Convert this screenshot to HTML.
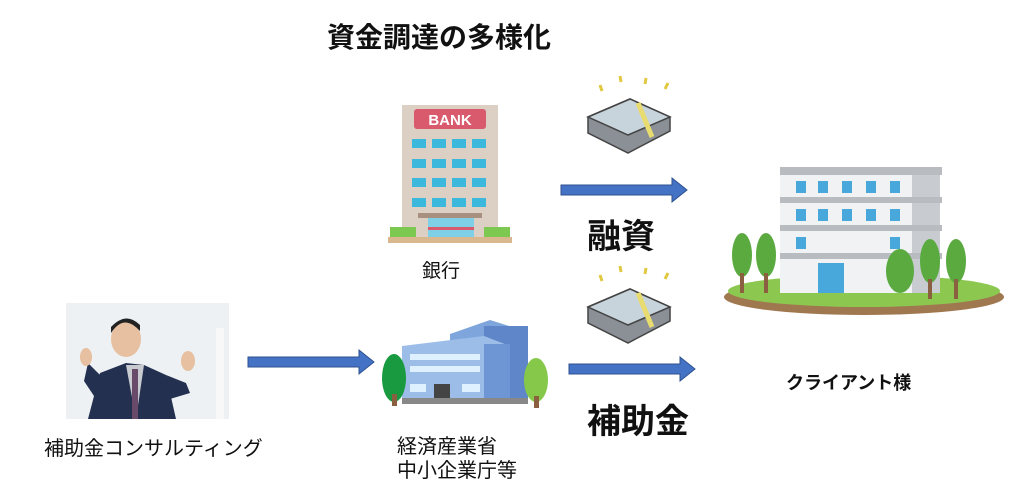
<!DOCTYPE html>
<html><head><meta charset="utf-8"><style>
body{margin:0;width:1024px;height:502px;background:#fff;position:relative;overflow:hidden;font-family:"Liberation Sans","Noto Sans CJK JP",sans-serif;color:#111}
.a{position:absolute}
.t{position:absolute;white-space:nowrap}
</style></head><body>
<div class="t" style="left:327px;top:16px;font-size:28px;font-weight:bold">資金調達の多様化</div>

<!-- bank -->
<svg class="a" style="left:386px;top:103px" width="128" height="142">
<rect x="16" y="2" width="96" height="132" fill="#dcd0c4"/>
<rect x="28" y="6" width="72" height="20" rx="3" fill="#d85a6c"/>
<text x="64" y="22" font-size="15" font-weight="bold" fill="#fff" text-anchor="middle" font-family="Liberation Sans">BANK</text>
<g fill="#3bb8dc">
<rect x="26" y="36" width="14" height="9"/><rect x="46" y="36" width="14" height="9"/><rect x="66" y="36" width="14" height="9"/><rect x="86" y="36" width="14" height="9"/>
<rect x="26" y="56" width="14" height="9"/><rect x="46" y="56" width="14" height="9"/><rect x="66" y="56" width="14" height="9"/><rect x="86" y="56" width="14" height="9"/>
<rect x="26" y="75" width="14" height="9"/><rect x="46" y="75" width="14" height="9"/><rect x="66" y="75" width="14" height="9"/><rect x="86" y="75" width="14" height="9"/>
<rect x="26" y="95" width="14" height="9"/><rect x="46" y="95" width="14" height="9"/><rect x="66" y="95" width="14" height="9"/><rect x="86" y="95" width="14" height="9"/>
</g>
<rect x="32" y="110" width="64" height="5" fill="#a89080"/>
<rect x="42" y="115" width="46" height="20" fill="#7fd0e6"/>
<rect x="42" y="124" width="46" height="3" fill="#d85a6c"/>
<rect x="4" y="124" width="26" height="10" fill="#7cc850"/><rect x="98" y="124" width="26" height="10" fill="#7cc850"/>
<rect x="2" y="134" width="124" height="6" fill="#d9b890"/>
</svg>
<div class="t" style="left:422px;top:256px;font-size:19px">銀行</div>

<!-- money -->
<svg class="a" style="left:582px;top:73px" width="92" height="84">
<g stroke="#e0c840" stroke-width="3"><line x1="18" y1="12" x2="20" y2="18"/><line x1="38" y1="3" x2="39" y2="9"/><line x1="64" y1="5" x2="63" y2="11"/><line x1="86" y1="10" x2="83" y2="16"/></g>
<polygon points="6,44 48,26 88,44 88,58 46,80 6,60" fill="#8a9096" stroke="#444" stroke-width="1.5"/>
<polygon points="6,44 48,26 88,44 46,62" fill="#c8d4dc" stroke="#444" stroke-width="1.5"/>
<line x1="56" y1="30" x2="70" y2="64" stroke="#e8dc70" stroke-width="5"/>
</svg>
<svg class="a" style="left:582px;top:263px" width="92" height="84">
<g stroke="#e0c840" stroke-width="3"><line x1="18" y1="12" x2="20" y2="18"/><line x1="38" y1="3" x2="39" y2="9"/><line x1="64" y1="5" x2="63" y2="11"/><line x1="86" y1="10" x2="83" y2="16"/></g>
<polygon points="6,44 48,26 88,44 88,58 46,80 6,60" fill="#8a9096" stroke="#444" stroke-width="1.5"/>
<polygon points="6,44 48,26 88,44 46,62" fill="#c8d4dc" stroke="#444" stroke-width="1.5"/>
<line x1="56" y1="30" x2="70" y2="64" stroke="#e8dc70" stroke-width="5"/>
</svg>

<!-- arrows -->
<svg class="a" style="left:0;top:0" width="1024" height="502">
<g fill="#4472c4" stroke="#2f528f" stroke-width="1">
<polygon points="561,185 672,185 672,178 687,190 672,202 672,195 561,195"/>
<polygon points="569,364 680,364 680,357 695,369 680,381 680,374 569,374"/>
<polygon points="248,357 359,357 359,350 374,362 359,374 359,367 248,367"/>
</g>
</svg>
<div class="t" style="left:587px;top:209px;font-size:34px;font-weight:bold">融資</div>
<div class="t" style="left:587px;top:394px;font-size:34px;font-weight:bold">補助金</div>

<!-- client building -->
<svg class="a" style="left:722px;top:163px" width="284" height="155">
<ellipse cx="142" cy="134" rx="140" ry="18" fill="#a07850"/>
<ellipse cx="142" cy="128" rx="136" ry="16" fill="#8cc850"/>
<rect x="58" y="6" width="160" height="124" fill="#f0f2f4"/>
<rect x="190" y="6" width="28" height="124" fill="#c8ccd0"/>
<rect x="58" y="4" width="162" height="8" fill="#b8bcc0"/>
<rect x="58" y="34" width="162" height="6" fill="#b8bcc0"/>
<rect x="58" y="62" width="162" height="6" fill="#b8bcc0"/>
<rect x="58" y="90" width="162" height="6" fill="#b8bcc0"/>
<g fill="#48a8dc"><rect x="74" y="18" width="10" height="12"/><rect x="96" y="18" width="10" height="12"/><rect x="120" y="18" width="10" height="12"/><rect x="144" y="18" width="10" height="12"/><rect x="168" y="18" width="10" height="12"/>
<rect x="74" y="46" width="10" height="12"/><rect x="96" y="46" width="10" height="12"/><rect x="120" y="46" width="10" height="12"/><rect x="144" y="46" width="10" height="12"/><rect x="168" y="46" width="10" height="12"/>
<rect x="74" y="74" width="10" height="12"/><rect x="168" y="74" width="10" height="12"/>
<rect x="96" y="100" width="26" height="30"/></g>
<g fill="#5aaa40"><ellipse cx="20" cy="92" rx="10" ry="22"/><ellipse cx="44" cy="92" rx="10" ry="22"/><ellipse cx="178" cy="108" rx="14" ry="22"/><ellipse cx="208" cy="98" rx="10" ry="22"/><ellipse cx="234" cy="98" rx="10" ry="22"/></g>
<g fill="#8a6040"><rect x="18" y="110" width="4" height="20"/><rect x="42" y="110" width="4" height="20"/><rect x="206" y="116" width="4" height="20"/><rect x="232" y="116" width="4" height="20"/></g>
</svg>
<div class="t" style="left:786px;top:369px;font-size:18px;font-weight:bold">クライアント様</div>

<!-- photo -->
<svg class="a" style="left:66px;top:303px" width="163" height="116">
<rect width="163" height="116" fill="#eef1f4"/>
<rect x="150" y="25" width="8" height="91" fill="#f8f8f8"/>
<polygon points="22,116 34,70 60,60 78,62 100,72 110,116" fill="#233050"/>
<polygon points="60,62 70,116 78,62" fill="#c8ccd0"/>
<rect x="66" y="66" width="6" height="50" fill="#6a4a6a"/>
<ellipse cx="60" cy="36" rx="15" ry="18" fill="#e6c0a0"/>
<path d="M45,30 Q58,10 74,28 L74,22 Q60,8 45,24Z" fill="#222"/>
<polygon points="34,72 22,60 18,78 30,96" fill="#233050"/>
<ellipse cx="20" cy="54" rx="6" ry="9" fill="#e6c0a0"/>
<polygon points="100,72 120,80 124,90 104,96" fill="#233050"/>
<ellipse cx="122" cy="58" rx="7" ry="10" fill="#e6c0a0"/>
</svg>
<div class="t" style="left:44px;top:432px;font-size:20px">補助金コンサルティング</div>

<!-- ministry -->
<svg class="a" style="left:380px;top:316px" width="170" height="94">
<polygon points="70,18 110,4 148,16 148,86 70,86" fill="#7fa6dc"/>
<rect x="104" y="10" width="44" height="76" fill="#5e86c8"/>
<polygon points="22,30 104,20 130,30 130,86 22,86" fill="#9cbde8"/>
<rect x="104" y="28" width="26" height="58" fill="#6e96d4"/>
<g fill="#dff0ff"><rect x="30" y="38" width="70" height="6"/><rect x="30" y="50" width="70" height="6"/><rect x="30" y="68" width="16" height="8"/><rect x="82" y="68" width="18" height="8"/></g>
<rect x="54" y="68" width="16" height="18" fill="#444"/>
<rect x="22" y="82" width="126" height="6" fill="#888"/>
<ellipse cx="14" cy="62" rx="12" ry="24" fill="#1a9a40"/><rect x="12" y="78" width="5" height="12" fill="#8a6040"/>
<ellipse cx="156" cy="64" rx="12" ry="22" fill="#86c84a"/><rect x="154" y="80" width="5" height="12" fill="#8a6040"/>
</svg>
<div class="t" style="left:397px;top:435px;font-size:20px;line-height:24px">経済産業省<br>中小企業庁等</div>
</body></html>
